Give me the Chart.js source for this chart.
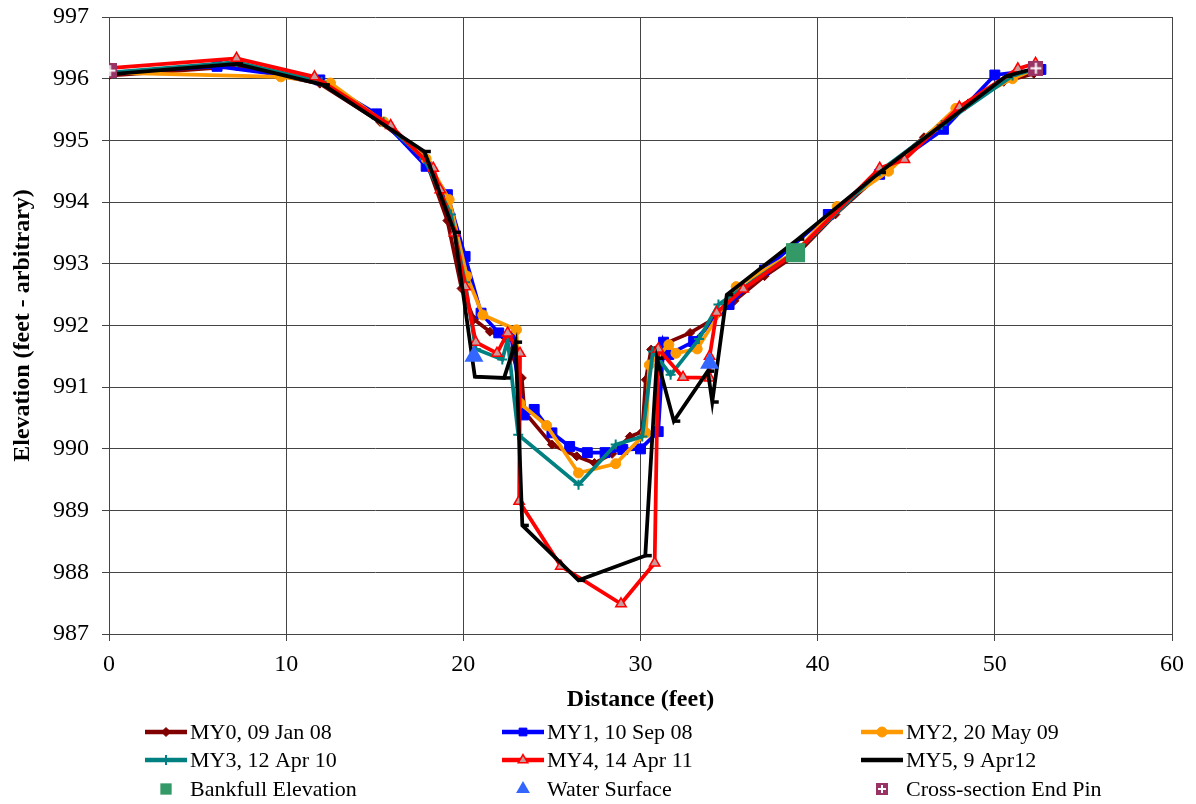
<!DOCTYPE html>
<html>
<head>
<meta charset="utf-8">
<script src="https://cdn.jsdelivr.net/npm/chart.js@4.4.0/dist/chart.umd.min.js"></script>
<style>
  html, body { margin: 0; padding: 0; background: #fff; }
  canvas { display: block; }
</style>
</head>
<body>
<canvas id="chart" width="1196" height="804"></canvas>
<script>
// Survey data: distance (ft) and elevation (ft - arbitrary)
const my0Dist = [0, 7.2, 11.9, 15.3, 17.8, 19.1, 19.9, 20.6, 21.5, 22.3, 23.3, 23.45, 25.0, 26.4, 27.4, 28.4, 29.4, 30.1, 30.3, 30.6, 32.8, 34.1, 35.3, 37.0, 38.8, 41.0, 43.5, 46.0, 48.5, 50.5, 52.2];
const my0Elev = [996.05, 996.2, 995.92, 995.3, 994.75, 993.7, 992.6, 992.1, 991.9, 991.82, 991.15, 990.6, 990.07, 989.88, 989.77, 989.92, 990.2, 990.28, 991.12, 991.61, 991.88, 992.1, 992.4, 992.8, 993.15, 993.8, 994.45, 995.05, 995.6, 995.95, 996.08];

const my1Dist = [0, 6.1, 11.9, 15.1, 17.9, 19.1, 20.1, 21.0, 22.0, 22.7, 23.4, 24.0, 25.0, 26.0, 27.0, 28.0, 29.0, 30.0, 31.0, 31.3, 31.6, 33.0, 35.0, 37.0, 40.6, 43.5, 47.1, 50.0, 52.6];
const my1Elev = [996.1, 996.2, 995.98, 995.43, 994.58, 994.12, 993.12, 992.2, 991.88, 991.82, 990.55, 990.64, 990.26, 990.04, 989.94, 989.94, 989.99, 990.0, 990.28, 991.73, 991.53, 991.74, 992.34, 992.9, 993.8, 994.45, 995.18, 996.06, 996.15];

const my2Dist = [0, 9.7, 12.5, 15.5, 17.9, 19.2, 20.2, 21.1, 23.0, 23.2, 24.7, 26.5, 28.6, 30.3, 30.5, 31.6, 32.0, 33.2, 35.4, 38.8, 41.1, 44.0, 47.8, 51.0, 52.2];
const my2Elev = [996.1, 996.03, 995.93, 995.3, 994.7, 994.04, 992.8, 992.17, 991.93, 990.74, 990.38, 989.61, 989.76, 990.26, 991.36, 991.69, 991.55, 991.62, 992.63, 993.2, 993.93, 994.5, 995.52, 996.0, 996.15];

const my3Dist = [0, 7.2, 12.0, 15.5, 17.8, 19.3, 20.1, 20.7, 22.2, 22.5, 23.1, 26.5, 28.6, 30.1, 30.7, 31.7, 33.3, 34.4, 38.8, 43.5, 47.0, 51.0, 52.2];
const my3Elev = [996.1, 996.27, 995.95, 995.3, 994.7, 993.8, 992.7, 991.62, 991.45, 991.77, 990.23, 989.42, 990.07, 990.2, 991.58, 991.2, 991.78, 992.34, 993.2, 994.5, 995.25, 996.05, 996.15];

const my4Dist = [0, 7.2, 11.6, 15.9, 18.3, 18.7, 19.5, 20.1, 20.7, 21.9, 22.5, 23.2, 23.15, 25.5, 28.9, 30.8, 31.0, 32.4, 33.9, 33.9, 34.3, 35.8, 38.8, 43.5, 44.9, 48.0, 51.3, 52.3];
const my4Elev = [996.17, 996.33, 996.03, 995.24, 994.55, 994.2, 993.5, 992.63, 991.73, 991.55, 991.88, 991.55, 989.15, 988.1, 987.49, 988.15, 991.62, 991.16, 991.15, 991.5, 992.21, 992.59, 993.2, 994.55, 994.69, 995.54, 996.16, 996.25];

const my5Dist = [0, 7.2, 12.1, 17.8, 19.5, 20.65, 22.3, 22.95, 23.33, 26.5, 30.27, 30.93, 31.88, 33.8, 34.05, 34.87, 38.88, 43.49, 50.63, 52.3];
const my5Elev = [996.07, 996.24, 995.9, 994.82, 993.51, 991.17, 991.15, 991.73, 988.76, 987.87, 988.27, 991.47, 990.45, 991.26, 990.76, 992.5, 993.4, 994.48, 996.04, 996.17];

const bankfullDist = [38.75];
const bankfullElev = [993.18];
const waterDist = [20.6, 33.9];
const waterElev = [991.5, 991.39];
const pinDist = [0.05, 52.32];
const pinElev = [996.13, 996.17];

const seriesNames = ['MY0, 09 Jan 08', 'MY1, 10 Sep 08', 'MY2, 20 May 09', 'MY3, 12 Apr 10', 'MY4, 14 Apr 11', 'MY5, 9 Apr12', 'Bankfull Elevation', 'Water Surface', 'Cross-section End Pin'];
const xTicks = [0, 10, 20, 30, 40, 50, 60];
const yTicks = [987, 988, 989, 990, 991, 992, 993, 994, 995, 996, 997];

const FONT = '"Liberation Serif", "Times New Roman", serif';

function pts(xs, ys) {
    return xs.map((x, i) => ({ x: x, y: ys[i] }));
}

// square marker with a white cross for the end pins
function pinMarker(size) {
    const c = document.createElement('canvas');
    c.width = size; c.height = size;
    const g = c.getContext('2d');
    g.fillStyle = '#993366';
    g.fillRect(0, 0, size, size);
    g.strokeStyle = '#fff';
    g.lineWidth = 2;
    g.beginPath();
    g.moveTo(size / 2, 2); g.lineTo(size / 2, size - 2);
    g.moveTo(2, size / 2); g.lineTo(size - 2, size / 2);
    g.stroke();
    return c;
}
const pinImg = pinMarker(15);
const pinImgSmall = pinMarker(12);

function lineSet(label, xs, ys, color, style, radius, fill, bw, order) {
    return {
        label: label,
        data: pts(xs, ys),
        showLine: true,
        borderColor: color,
        borderWidth: 3.75,
        pointStyle: style,
        pointRadius: radius,
        pointBackgroundColor: fill,
        pointBorderColor: color,
        pointBorderWidth: bw,
        order: order
    };
}

const datasets = [
    lineSet(seriesNames[0], my0Dist, my0Elev, '#800000', 'rectRot', 4.5, '#800000', 1, 8),
    lineSet(seriesNames[1], my1Dist, my1Elev, '#0000FF', 'rect', 7, '#0000FF', 1, 7),
    lineSet(seriesNames[2], my2Dist, my2Elev, '#FF9900', 'circle', 5, '#FF9900', 1, 6),
    lineSet(seriesNames[3], my3Dist, my3Elev, '#008080', 'cross', 5, '#008080', 2, 5),
    lineSet(seriesNames[4], my4Dist, my4Elev, '#FF0000', 'triangle', 6, '#C89A9A', 1.5, 4),
    lineSet(seriesNames[5], my5Dist, my5Elev, '#000000', 'dash', 6.5, '#000000', 3.5, 3),
    {
        label: seriesNames[6], data: pts(bankfullDist, bankfullElev), showLine: false,
        pointStyle: 'rect', pointRadius: 13.5, pointBackgroundColor: '#339966',
        pointBorderColor: '#339966', pointBorderWidth: 0, order: 2
    },
    {
        label: seriesNames[7], data: pts(waterDist, waterElev), showLine: false,
        pointStyle: 'triangle', pointRadius: 11, pointBackgroundColor: '#3366FF',
        pointBorderColor: '#3366FF', pointBorderWidth: 0, order: 1
    },
    {
        label: seriesNames[8], data: pts(pinDist, pinElev), showLine: false,
        pointStyle: pinImg, pointRadius: 8, order: 0
    }
];

// three-column legend under the axis title
const gridLegend = {
    id: 'gridLegend',
    afterDraw(chart) {
        const ctx = chart.ctx;
        const cols = [145, 502, 861];
        const rows = [732, 760, 789];
        ctx.save();
        chart.data.datasets.forEach((ds, i) => {
            const x = cols[i % 3];
            const y = rows[Math.floor(i / 3)];
            const mid = x + 21;
            if (ds.showLine) {
                ctx.strokeStyle = ds.borderColor;
                ctx.lineWidth = 4.5;
                ctx.beginPath();
                ctx.moveTo(x, y); ctx.lineTo(x + 42, y);
                ctx.stroke();
            }
            if (ds.pointStyle instanceof HTMLCanvasElement) {
                ctx.drawImage(pinImgSmall, mid - 6, y - 6);
            } else {
                ctx.fillStyle = ds.pointBackgroundColor;
                ctx.strokeStyle = ds.pointBorderColor;
                ctx.lineWidth = ds.pointBorderWidth;
                Chart.helpers.drawPoint(ctx, {
                    pointStyle: ds.pointStyle,
                    radius: ds.showLine ? Math.min(ds.pointRadius, 5.5) : 8,
                    borderWidth: ds.pointBorderWidth,
                    rotation: 0
                }, mid, y);
            }
            ctx.fillStyle = '#000';
            ctx.font = '22px ' + FONT;
            ctx.textBaseline = 'middle';
            ctx.textAlign = 'left';
            ctx.fillText(ds.label, x + 45, y + 1);
        });
        ctx.restore();
    }
};

new Chart(document.getElementById('chart'), {
    type: 'scatter',
    data: { datasets: datasets },
    options: {
        responsive: false,
        animation: false,
        layout: { padding: { top: 17, right: 24, bottom: 90, left: 0 } },
        plugins: {
            legend: { display: false },
            tooltip: { enabled: false }
        },
        scales: {
            x: {
                type: 'linear',
                min: xTicks[0],
                max: xTicks[xTicks.length - 1],
                afterBuildTicks(scale) { scale.ticks = xTicks.map(v => ({ value: v })); },
                ticks: { color: '#000', font: { family: FONT, size: 24 }, padding: 9, maxRotation: 0 },
                grid: { color: '#444', lineWidth: 1, tickLength: 7, tickColor: '#444' },
                border: { color: '#444', width: 1 },
                title: {
                    display: true, text: 'Distance (feet)', color: '#000',
                    font: { family: FONT, size: 24, weight: 'bold' }, padding: { top: 0, bottom: 0 }
                },
                afterFit(scale) { scale.height = 80; scale.paddingRight = 0; scale.paddingLeft = 0; }
            },
            y: {
                type: 'linear',
                min: yTicks[0],
                max: yTicks[yTicks.length - 1],
                afterBuildTicks(scale) { scale.ticks = yTicks.map(v => ({ value: v })); },
                ticks: { color: '#000', font: { family: FONT, size: 24 }, padding: 13 },
                grid: { color: '#444', lineWidth: 1, tickLength: 7, tickColor: '#444' },
                border: { color: '#444', width: 1 },
                title: {
                    display: true, text: 'Elevation (feet - arbitrary)', color: '#000',
                    font: { family: FONT, size: 24, weight: 'bold' }, padding: { top: 8, bottom: 0 }
                },
                afterFit(scale) { scale.width = 109; scale.paddingTop = 0; scale.paddingBottom = 0; }
            }
        }
    },
    plugins: [gridLegend]
});
</script>
</body>
</html>
